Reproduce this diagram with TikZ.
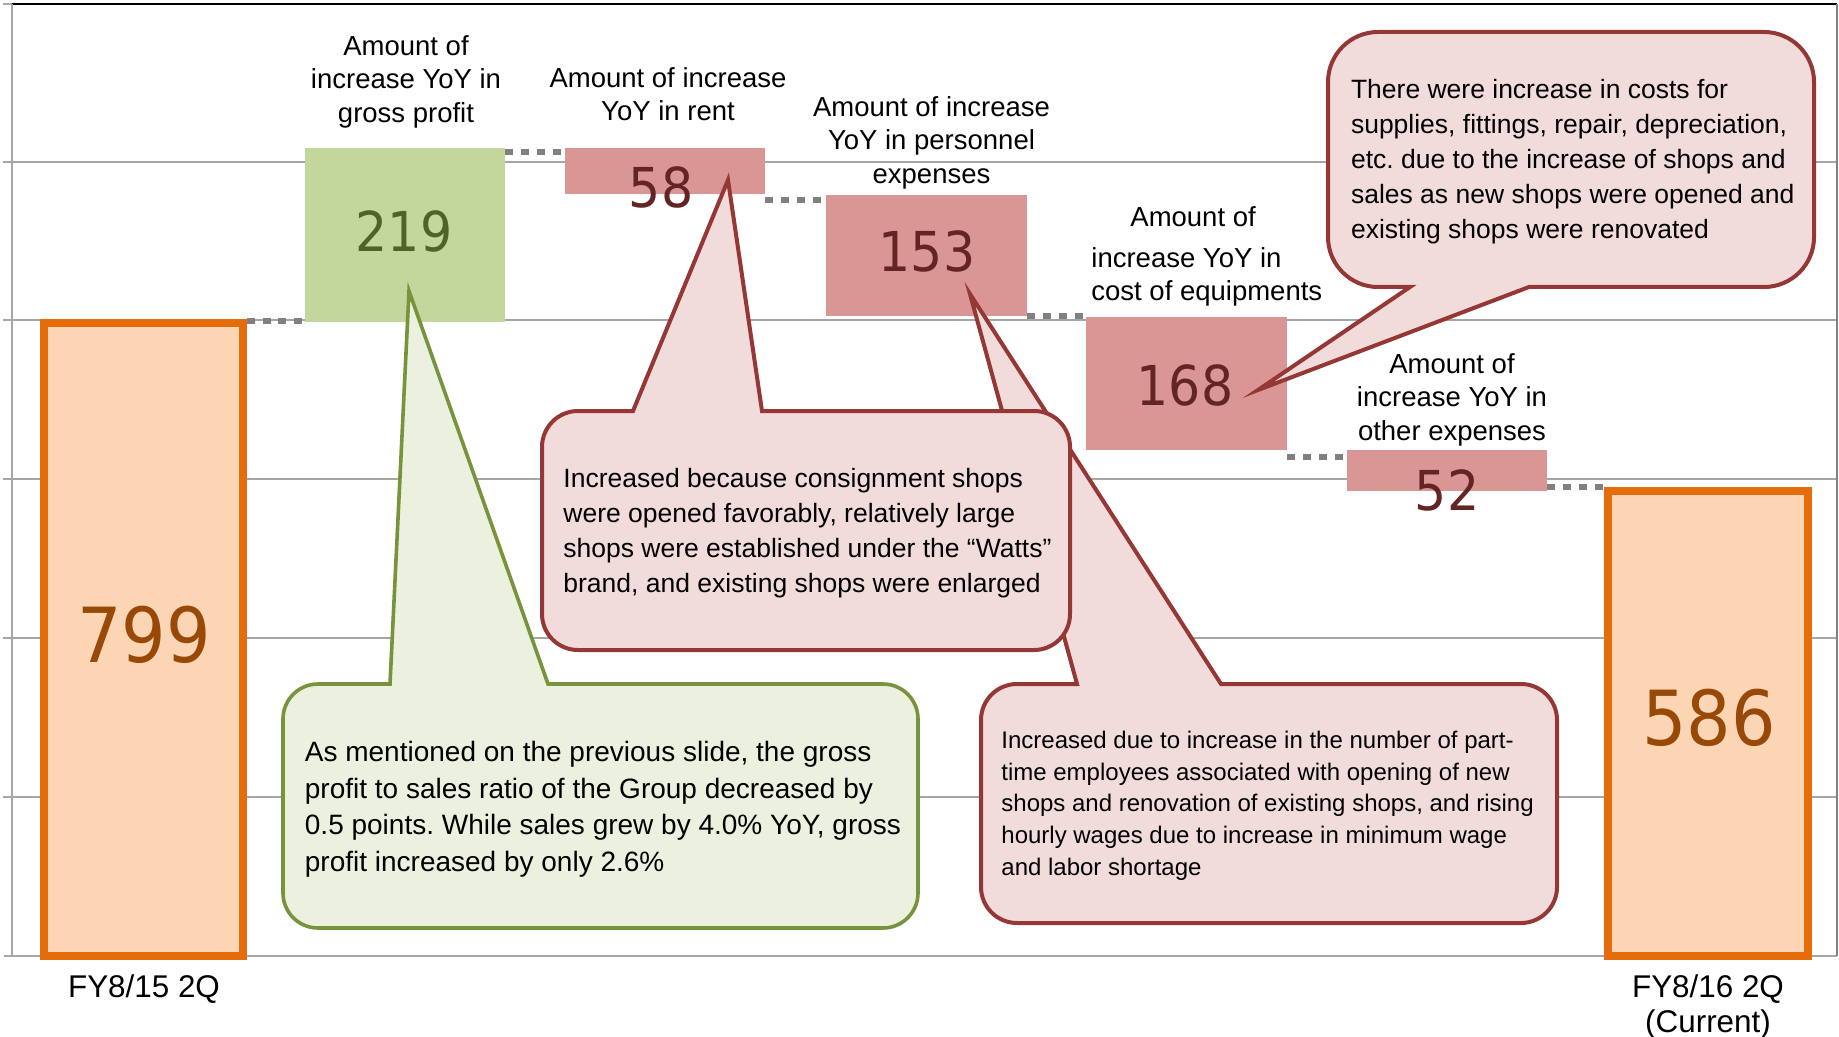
\documentclass[tikz,border=0pt]{standalone}
\usepackage{fontspec}
\setmainfont{Liberation Sans}
\newfontfamily\numfont[FakeStretch=0.92]{DejaVu Sans}
\usetikzlibrary{fit}

\definecolor{gridgray}{RGB}{166,166,166}
\definecolor{dotgray}{RGB}{128,128,128}
\definecolor{orangeline}{RGB}{228,108,10}
\definecolor{orangefill}{RGB}{252,213,181}
\definecolor{orangetext}{RGB}{152,72,7}
\definecolor{greenfill}{RGB}{195,214,155}
\definecolor{greentext}{RGB}{79,98,40}
\definecolor{redfill}{RGB}{217,150,148}
\definecolor{redtext}{RGB}{99,37,35}
\definecolor{callgreenfill}{RGB}{235,241,222}
\definecolor{callgreenline}{RGB}{119,147,60}
\definecolor{callredfill}{RGB}{242,220,219}
\definecolor{callredline}{RGB}{149,55,53}

\tikzset{
  gridline/.style={draw=gridgray, line width=1pt},
  barorange/.style={inner sep=0pt, draw=orangeline, fill=orangefill, line width=4pt},
  bargreen/.style={inner sep=0pt, fill=greenfill},
  barred/.style={inner sep=0pt, fill=redfill},
  dotline/.style={draw=dotgray, line width=3pt, dash pattern=on 4pt off 3.85pt},
  numbig/.style={inner sep=0pt, anchor=base, text=orangetext, font=\numfont\fontsize{38}{40}\selectfont},
  numgreen/.style={inner sep=0pt, anchor=base, text=greentext, font=\numfont\fontsize{27.5}{30}\selectfont},
  numred/.style={inner sep=0pt, anchor=base, text=redtext, font=\numfont\fontsize{27.5}{30}\selectfont},
  catlabel/.style={inner sep=0pt, anchor=north, align=center, font=\fontsize{13.75}{16.75}\selectfont},
  ticklabel/.style={inner sep=0pt, anchor=north, align=center, font=\fontsize{15.7}{17.5}\selectfont},
  callgreen/.style={draw=callgreenline, fill=callgreenfill, line width=1.8pt},
  callred/.style={draw=callredline, fill=callredfill, line width=2pt},
  calltext/.style={inner sep=0pt, anchor=north west, align=left},
}

\begin{document}
\frenchspacing
\begin{tikzpicture}[x=0.5pt,y=0.5pt,yscale=-1,xscale=1]
\useasboundingbox (0,0) rectangle (1839,1037);
\fill[white] (0,0) rectangle (1839,1037);

%Grid lines
\foreach \gy in {162,320.5,479,638,796.5} {
  \draw[gridline] (3,\gy) -- (1837,\gy) ;
}
\draw[gridline] (3,4) -- (12,4) ;
\draw[black, line width=1pt] (12,4) -- (1837,4) ;
%Axes
\draw[gridline, line width=1.3pt] (12,4) -- (12,956) ;
\draw[gridline, line width=1.3pt] (4,956) -- (1837,956) ;
\draw[draw=dotgray, line width=1pt] (1837,4) -- (1837,956) ;

%Shape: Bars
\node[barorange, fit={(44,323) (243,956)}] (b799) {};
\node[bargreen, fit={(305,148) (505,322)}] (b219) {};
\node[barred, fit={(565,148) (765,194)}] (b58) {};
\node[barred, fit={(826,195) (1027,316)}] (b153) {};
\node[barred, fit={(1086,317) (1287,450)}] (b168) {};
\node[barred, fit={(1347,450) (1547,491)}] (b52) {};
\node[barorange, fit={(1608,491) (1808,956)}] (b586) {};

%Dotted connectors
\draw[dotline] ([yshift=1pt]b799.north east) -- ([yshift=1pt]b799.north east -| b219.west) ;
\draw[dotline] ([yshift=2pt]b219.north east) -- ([yshift=2pt]b219.north east -| b58.west) ;
\draw[dotline] ([yshift=3pt]b58.south east) -- ([yshift=3pt]b58.south east -| b153.west) ;
\draw[dotline] (b153.south east) -- (b153.south east -| b168.west) ;
\draw[dotline] ([yshift=3.5pt]b168.south east) -- ([yshift=3.5pt]b168.south east -| b52.west) ;
\draw[dotline] ([yshift=-2pt]b52.south east) -- ([yshift=-2pt]b52.south east -| b586.west) ;

% Value labels
\node[numbig] (v799) at (144,662) {799};
\node[numgreen] (v219) at (404,252) {219};
\node[numred] (v58) at (661,208) {58};
\node[numred] (v153) at (927,272) {153};
\node[numred] (v168) at (1185,405) {168};
\node[numred] (v52) at (1447,510) {52};
\node[numbig] (v586) at (1709,745) {586};

% Text Node
\node[catlabel] (lgp) at (406,35) {Amount of\\increase YoY in\\gross profit};
\node[catlabel] (lrent) at (668,67) {Amount of increase\\YoY in rent};
\node[catlabel] (lpers) at (931.5,96) {Amount of increase\\YoY in personnel\\expenses};
\node[catlabel, anchor=north west, align=left] (lequip) at (1091,206) {\hspace*{19.5pt}Amount of\\[3.75pt]increase YoY in\\cost of equipments};
\node[catlabel] (lother) at (1452,353) {Amount of\\increase YoY in\\other expenses};
\node[ticklabel] (lprev) at (144,974) {FY8/15 2Q};
\node[ticklabel] (lcur) at (1708,974) {FY8/16 2Q\\(Current)};

%Callout tips
\coordinate (tip219) at (409,291);
\coordinate (tip58) at (728,180);
\coordinate (tip153) at (970,294);
\coordinate (tip168) at (1258,390);

%Shape: Callout personnel
\draw[callred] (1557,800) [rounded corners=18pt] -- (1557,923) -- (981,923) -- (981,684) [sharp corners] -- (1077,684) -- (tip153) -- (1221,684) [rounded corners=18pt] -- (1557,684) -- cycle ;
\node[calltext, font=\fontsize{12}{15.85}\selectfont] (tpers) at (1001,730.5) {Increased due to increase in the number of part-\\time employees associated with opening of new\\shops and renovation of existing shops, and rising\\hourly wages due to increase in minimum wage\\and labor shortage};

%Shape: Callout rent
\draw[callred] (1070,530) [rounded corners=18pt] -- (1070,650) -- (542,650) -- (542,411) [sharp corners] -- (633,411) -- (tip58) -- (762,411) [rounded corners=18pt] -- (1070,411) -- cycle ;
\node[calltext, font=\fontsize{13.25}{17.5}\selectfont] (trent) at (563,467.7) {Increased because consignment shops\\were opened favorably, relatively large\\shops were established under the “Watts”\\brand, and existing shops were enlarged};

%Shape: Callout gross profit
\draw[callgreen] (918,800) [rounded corners=17.5pt] -- (918,928) -- (283,928) -- (283,684) [sharp corners] -- (390,684) -- (tip219) -- (548,684) [rounded corners=17.5pt] -- (918,684) -- cycle ;
\node[calltext, font=\fontsize{14}{18.4}\selectfont] (tgp) at (304.5,740.6) {As mentioned on the previous slide, the gross\\profit to sales ratio of the Group decreased by\\0.5 points. While sales grew by 4.0\% YoY, gross\\profit increased by only 2.6\%};

%Shape: Callout equipments
\draw[callred] (1328,160) [rounded corners=25pt] -- (1328,32) -- (1814,32) -- (1814,287) [sharp corners] -- (1529,287) -- (tip168) -- (1410,287) [rounded corners=25pt] -- (1328,287) -- cycle ;
\node[calltext, font=\fontsize{13.25}{17.5}\selectfont] (tequip) at (1350.6,78.7) {There were increase in costs for\\supplies, fittings, repair, depreciation,\\etc. due to the increase of shops and\\sales as new shops were opened and\\existing shops were renovated};

\end{tikzpicture}
\end{document}
